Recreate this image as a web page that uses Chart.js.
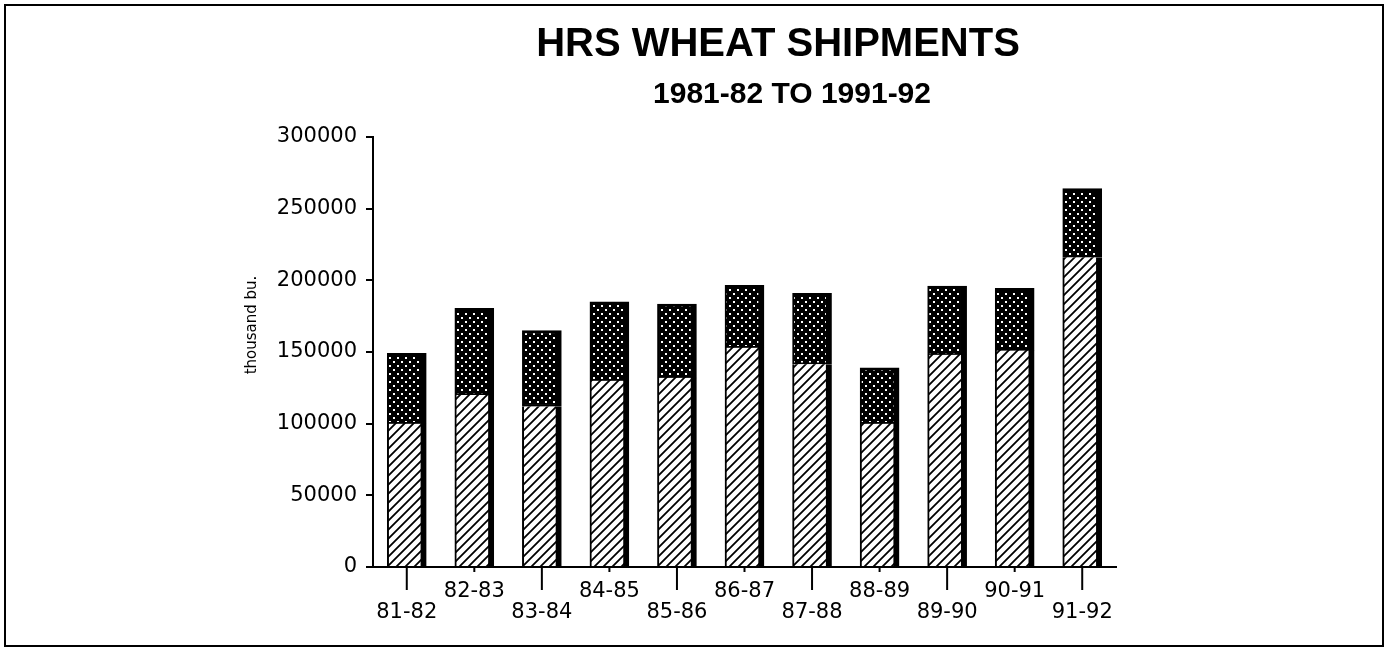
<!DOCTYPE html>
<html lang="en">
<head>
  <meta charset="UTF-8" />
  <title>HRS Wheat Shipments</title>
  <script src="https://cdn.jsdelivr.net/npm/chart.js"></script>
  <style>
    html, body { margin: 0; padding: 0; background: #fff; }
    #wrap { width: 1385px; height: 648px; }
  </style>
</head>
<body>
  <div id="wrap"><canvas id="chart" width="1385" height="648"></canvas></div>

  <script>
    // seasons and the two parts of each bar (thousand bu.)
    const seasons = ['81-82', '82-83', '83-84', '84-85', '85-86', '86-87', '87-88', '88-89', '89-90', '90-91', '91-92'];
    const lowerPart = [100000, 120000, 112000, 130000, 132000, 153000, 141500, 100000, 148000, 151000, 216000];
    const upperPart = [49000, 60500, 53000, 55000, 51500, 43500, 49500, 39000, 48000, 43500, 48000];
    const yTicks = [0, 50000, 100000, 150000, 200000, 250000, 300000];

    // fill patterns
    function hatchPattern() {
      const c = document.createElement('canvas');
      c.width = c.height = 9;
      const g = c.getContext('2d');
      g.fillStyle = '#fff';
      g.fillRect(0, 0, 9, 9);
      g.strokeStyle = '#000';
      g.lineWidth = 1.8;
      g.beginPath();
      g.moveTo(0, 9); g.lineTo(9, 0);
      g.moveTo(-2, 2); g.lineTo(2, -2);
      g.moveTo(7, 11); g.lineTo(11, 7);
      g.stroke();
      return g.createPattern(c, 'repeat');
    }
    function dotPattern() {
      const c = document.createElement('canvas');
      c.width = c.height = 8;
      const g = c.getContext('2d');
      g.fillStyle = '#000';
      g.fillRect(0, 0, 8, 8);
      g.fillStyle = '#fff';
      g.fillRect(1, 1, 2, 2);
      g.fillRect(5, 5, 2, 2);
      return g.createPattern(c, 'repeat');
    }

    const page = {
      id: 'page',
      beforeDraw(chart) {
        const ctx = chart.ctx;
        ctx.save();
        ctx.fillStyle = '#fff';
        ctx.fillRect(0, 0, chart.width, chart.height);
        ctx.restore();
      },
      afterDraw(chart) {
        const ctx = chart.ctx;
        const x = chart.scales.x;
        ctx.save();
        // frame
        ctx.strokeStyle = '#000';
        ctx.lineWidth = 2;
        ctx.strokeRect(5, 5, 1378, 641);

        // x tick marks, long ones under the lower labels
        seasons.forEach((s, i) => {
          const px = x.getPixelForValue(i);
          ctx.beginPath();
          ctx.moveTo(px, x.top);
          ctx.lineTo(px, x.top + (i % 2 === 0 ? 23 : 5));
          ctx.stroke();
        });

        // titles
        ctx.fillStyle = '#000';
        ctx.textAlign = 'center';
        ctx.textBaseline = 'alphabetic';
        ctx.font = 'bold 40px "Liberation Sans", Arial, sans-serif';
        ctx.fillText('HRS WHEAT SHIPMENTS', 778, 56);
        ctx.font = 'bold 30px "Liberation Sans", Arial, sans-serif';
        ctx.fillText('1981-82 TO 1991-92', 792, 103);

        // y axis title
        ctx.translate(252, 325);
        ctx.rotate(-Math.PI / 2);
        ctx.textBaseline = 'middle';
        ctx.font = '15px "DejaVu Sans", sans-serif';
        ctx.fillText('thousand bu.', 0, 0);
        ctx.restore();
      }
    };

    new Chart(document.getElementById('chart'), {
      type: 'bar',
      data: {
        labels: seasons,
        datasets: [
          {
            data: lowerPart,
            backgroundColor: hatchPattern(),
            borderColor: '#000',
            borderWidth: { left: 2, right: 6, top: 0, bottom: 0 },
            borderSkipped: false
          },
          {
            data: upperPart,
            backgroundColor: dotPattern(),
            borderColor: '#000',
            borderWidth: { left: 2, right: 6, top: 3, bottom: 2 },
            borderSkipped: false
          }
        ]
      },
      options: {
        responsive: false,
        animation: false,
        layout: { padding: { top: 137, right: 269, bottom: 0, left: 0 } },
        datasets: { bar: { barThickness: 39 } },
        plugins: {
          legend: { display: false },
          tooltip: { enabled: false }
        },
        scales: {
          x: {
            stacked: true,
            afterFit: s => { s.height = 81; },
            grid: { display: false },
            border: { display: true, color: '#000', width: 2 },
            ticks: {
              autoSkip: false,
              maxRotation: 0,
              padding: 6,
              color: '#000',
              font: { family: '"DejaVu Sans", sans-serif', size: 21, lineHeight: 1.0 },
              callback: (v, i) => (i % 2 === 0 ? ['', seasons[i]] : seasons[i])
            }
          },
          y: {
            stacked: true,
            min: 0,
            max: 300000,
            afterFit: s => { s.width = 373; },
            afterBuildTicks: s => { s.ticks = yTicks.map(v => ({ value: v })); },
            grid: { drawOnChartArea: false, drawTicks: true, tickLength: 7, color: '#000', lineWidth: 2 },
            border: { display: true, color: '#000', width: 2 },
            ticks: {
              padding: 9,
              color: '#000',
              font: { family: '"DejaVu Sans", sans-serif', size: 21 },
              callback: v => String(v)
            }
          }
        }
      },
      plugins: [page]
    });
  </script>
</body>
</html>
